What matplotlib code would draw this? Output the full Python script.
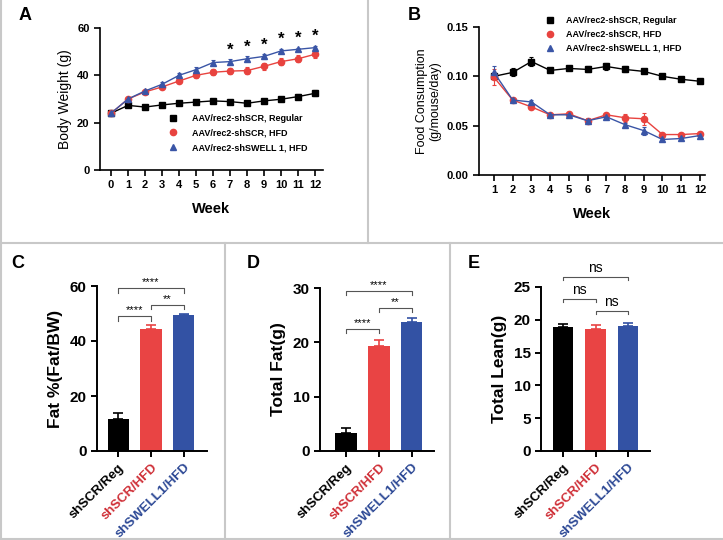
import matplotlib
matplotlib.use("Agg")
import matplotlib.pyplot as plt
from matplotlib.lines import Line2D
import numpy as np

plt.rcParams['font.family'] = ['Liberation Sans', 'DejaVu Sans']

# ---------------- data ----------------
weeks_a = [0, 1, 2, 3, 4, 5, 6, 7, 8, 9, 10, 11, 12]
bw_reg = [24.0, 27.3, 26.6, 27.5, 28.2, 28.7, 29.2, 28.9, 28.2, 29.2, 29.9, 31.0, 32.4]
bw_reg_err = [0.5, 0.8, 0.6, 0.6, 0.6, 0.7, 0.8, 0.8, 0.7, 0.7, 0.8, 1.0, 1.2]
bw_hfd = [24.0, 30.0, 33.0, 35.1, 37.6, 40.0, 41.3, 41.8, 42.0, 43.8, 45.8, 47.0, 48.9]
bw_hfd_err = [0.5, 0.6, 0.7, 0.8, 1.0, 1.2, 1.3, 1.3, 1.5, 1.6, 1.6, 1.5, 1.4]
bw_swell = [24.0, 30.0, 33.4, 36.2, 40.0, 42.4, 45.4, 45.8, 47.0, 48.0, 50.3, 51.0, 51.7]
bw_swell_err = [0.5, 0.6, 0.6, 0.8, 1.0, 1.2, 1.1, 1.0, 1.0, 0.9, 0.8, 0.6, 0.7]
star_weeks = [7, 8, 9, 10, 11, 12]

weeks_b = [1, 2, 3, 4, 5, 6, 7, 8, 9, 10, 11, 12]
fc_reg = [0.100, 0.104, 0.115, 0.106, 0.108, 0.107, 0.110, 0.107, 0.105, 0.100, 0.097, 0.095]
fc_reg_err = [0.002, 0.004, 0.005, 0.002, 0.002, 0.003, 0.004, 0.003, 0.002, 0.002, 0.002, 0.002]
fc_hfd = [0.099, 0.076, 0.069, 0.061, 0.062, 0.055, 0.061, 0.058, 0.057, 0.041, 0.041, 0.042]
fc_hfd_err = [0.008, 0.002, 0.002, 0.002, 0.002, 0.002, 0.002, 0.004, 0.006, 0.002, 0.002, 0.002]
fc_swell = [0.104, 0.076, 0.074, 0.061, 0.061, 0.055, 0.059, 0.051, 0.045, 0.036, 0.037, 0.040]
fc_swell_err = [0.006, 0.002, 0.002, 0.002, 0.002, 0.003, 0.002, 0.002, 0.004, 0.002, 0.002, 0.002]

series_labels = ["AAV/rec2-shSCR, Regular", "AAV/rec2-shSCR, HFD", "AAV/rec2-shSWELL 1, HFD"]

groups = ["shSCR/Reg", "shSCR/HFD", "shSWELL1/HFD"]
fat_pct = [11.5, 44.5, 49.3]
fat_pct_err = [2.3, 1.2, 0.5]
total_fat = [3.4, 19.3, 23.7]
total_fat_err = [0.8, 1.1, 0.8]
total_lean = [18.9, 18.6, 19.1]
total_lean_err = [0.4, 0.6, 0.4]

# ---------------- style ----------------
C_BLACK = "#000000"
C_RED = "#E8433F"
C_BLUE = "#3A55A6"
LBL_COLORS = ["#000000", "#CF2E36", "#2C4895"]
BAR_COLORS = ["#000000", "#E94444", "#3352A4"]

W, H = 723, 540
fig = plt.figure(figsize=(W / 100, H / 100), dpi=100)


def add_ax(left, right, top, bottom):
    return fig.add_axes([left / W, 1 - bottom / H, (right - left) / W, (bottom - top) / H])


def style_ax(ax, lw=1.3):
    for s in ["top", "right"]:
        ax.spines[s].set_visible(False)
    for s in ["left", "bottom"]:
        ax.spines[s].set_linewidth(lw)
    ax.tick_params(width=lw, length=4, direction="out")


# ---------- Panel A ----------
axA = add_ax(100, 323, 28, 170)
style_ax(axA, 1.2)
for y, e, c, m in [(bw_reg, bw_reg_err, C_BLACK, "s"),
                   (bw_hfd, bw_hfd_err, C_RED, "o"),
                   (bw_swell, bw_swell_err, C_BLUE, "^")]:
    axA.errorbar(weeks_a, y, yerr=e, color=c, marker=m, markersize=4.5, lw=1.0,
                 capsize=1.5, elinewidth=0.8, capthick=0.8)
axA.set_xlim(-0.65, 12.47)
axA.set_ylim(0, 60)
axA.set_yticks([0, 20, 40, 60])
axA.set_xticks(weeks_a)
for lab in axA.get_xticklabels() + axA.get_yticklabels():
    lab.set_fontweight("bold")
    lab.set_fontsize(8)
axA.set_xlabel("Week", fontsize=10.5, fontweight="bold", labelpad=8)
axA.set_ylabel("Body Weight (g)", fontsize=10, labelpad=4)
for wk in star_weeks:
    i = weeks_a.index(wk)
    axA.text(wk, bw_swell[i] + bw_swell_err[i] + 0.8, "*", ha="center", va="bottom",
             fontsize=12, fontweight="bold")

handles = [Line2D([], [], color=c, marker=m, linestyle="none", markersize=4.5)
           for c, m in [(C_BLACK, "s"), (C_RED, "o"), (C_BLUE, "^")]]
axA.legend(handles, series_labels, loc="upper left", bbox_to_anchor=(0.27, 0.45),
           frameon=False, handlelength=1, handletextpad=1.6, labelspacing=0.6,
           prop={"weight": "bold", "size": 6.5})

# ---------- Panel B ----------
axB = add_ax(479, 705, 27, 175)
style_ax(axB, 1.2)
for y, e, c, m in [(fc_reg, fc_reg_err, C_BLACK, "s"),
                   (fc_hfd, fc_hfd_err, C_RED, "o"),
                   (fc_swell, fc_swell_err, C_BLUE, "^")]:
    axB.errorbar(weeks_b, y, yerr=e, color=c, marker=m, markersize=4.5, lw=1.0,
                 capsize=1.5, elinewidth=0.8, capthick=0.8)
axB.set_xlim(0.2, 12.27)
axB.set_ylim(0, 0.15)
axB.set_yticks([0, 0.05, 0.10, 0.15])
axB.set_yticklabels(["0.00", "0.05", "0.10", "0.15"])
axB.set_xticks(weeks_b)
for lab in axB.get_xticklabels() + axB.get_yticklabels():
    lab.set_fontweight("bold")
    lab.set_fontsize(8)
axB.set_xlabel("Week", fontsize=10.5, fontweight="bold", labelpad=8)
axB.set_ylabel("Food Consumption\n(g/mouse/day)", fontsize=9, labelpad=4, linespacing=1.1)
axB.legend(handles, series_labels, loc="upper left", bbox_to_anchor=(0.26, 1.13),
           frameon=False, handlelength=1, handletextpad=1.2, labelspacing=0.55,
           prop={"weight": "bold", "size": 6.5})


# ---------- bar panels ----------
def bracket(ax, x1, x2, y, h, text, fs, color="#555555", tpad=0.0):
    ax.plot([x1, x1, x2, x2], [y - h, y, y, y - h], color=color, lw=0.8, clip_on=False)
    ax.text((x1 + x2) / 2, y + tpad, text, ha="center", va="bottom", fontsize=fs,
            clip_on=False)


def bar_panel(ax, vals, errs, ylim, yticks, ylabel):
    style_ax(ax, 1.4)
    x = np.arange(len(groups))
    ax.bar(x, vals, width=0.64, color=BAR_COLORS, zorder=2)
    for xi, v, e, c in zip(x, vals, errs, BAR_COLORS):
        ax.errorbar([xi], [v], yerr=[[0], [e]], color=c, capsize=3.5, elinewidth=1.2,
                    capthick=1.2, zorder=1)
    ax.set_ylim(*ylim)
    ax.set_yticks(yticks)
    ax.set_xticks(x)
    ax.set_xticklabels(groups, rotation=45, ha="right", rotation_mode="anchor")
    for lab, c in zip(ax.get_xticklabels(), LBL_COLORS):
        lab.set_color(c)
        lab.set_fontweight("bold")
        lab.set_fontsize(9.5)
    for lab in ax.get_yticklabels():
        lab.set_fontweight("bold")
        lab.set_fontsize(11)
    ax.set_ylabel(ylabel, fontsize=12.5, fontweight="bold", labelpad=5)


axC = add_ax(97, 207, 286, 451)
bar_panel(axC, fat_pct, fat_pct_err, (0, 60), [0, 20, 40, 60], "Fat %(Fat/BW)")
axC.set_xlim(-0.64, 2.7)
bracket(axC, 0, 2, 59.2, 1.6, "****", 8, tpad=0.3)
bracket(axC, 0, 1, 49.1, 1.7, "****", 8, tpad=0.3)
bracket(axC, 1, 2, 53.0, 1.2, "**", 8, tpad=0.3)

axD = add_ax(320, 434, 288, 451)
bar_panel(axD, total_fat, total_fat_err, (0, 30), [0, 10, 20, 30], "Total Fat(g)")
axD.set_xlim(-0.79, 2.67)
bracket(axD, 0, 2, 29.4, 0.7, "****", 8, tpad=0.15)
bracket(axD, 0, 1, 22.5, 0.8, "****", 8, tpad=0.15)
bracket(axD, 1, 2, 26.3, 0.8, "**", 8, tpad=0.15)

axE = add_ax(541, 650, 287, 451)
bar_panel(axE, total_lean, total_lean_err, (0, 25), [0, 5, 10, 15, 20, 25], "Total Lean(g)")
axE.set_xlim(-0.68, 2.68)
bracket(axE, 0, 2, 26.5, 0.5, "ns", 10, tpad=0.3)
bracket(axE, 0, 1, 23.2, 0.5, "ns", 10, tpad=0.3)
bracket(axE, 1, 2, 21.4, 0.5, "ns", 10, tpad=0.3)

# ---------- panel letters ----------
for lx, ly, t in [(19, 16, "A"), (408, 16, "B"), (11, 263, "C"), (247, 263, "D"), (468, 263, "E")]:
    fig.text(lx / W, 1 - ly / H, t, fontsize=13, fontweight="bold", ha="left", va="center")

# ---------- panel frame lines ----------
gc = "#C8C8C8"
def fline(x0, y0, x1, y1):
    fig.add_artist(Line2D([x0 / W, x1 / W], [1 - y0 / H, 1 - y1 / H], color=gc, lw=1.5))

fline(0, 243, W, 243)
fline(368, 0, 368, 243)
fline(225, 243, 225, H)
fline(450, 243, 450, H)
fline(0.7, 0, 0.7, H)
fline(0, 538.5, W, 538.5)

fig.savefig("out.png", dpi=100)
